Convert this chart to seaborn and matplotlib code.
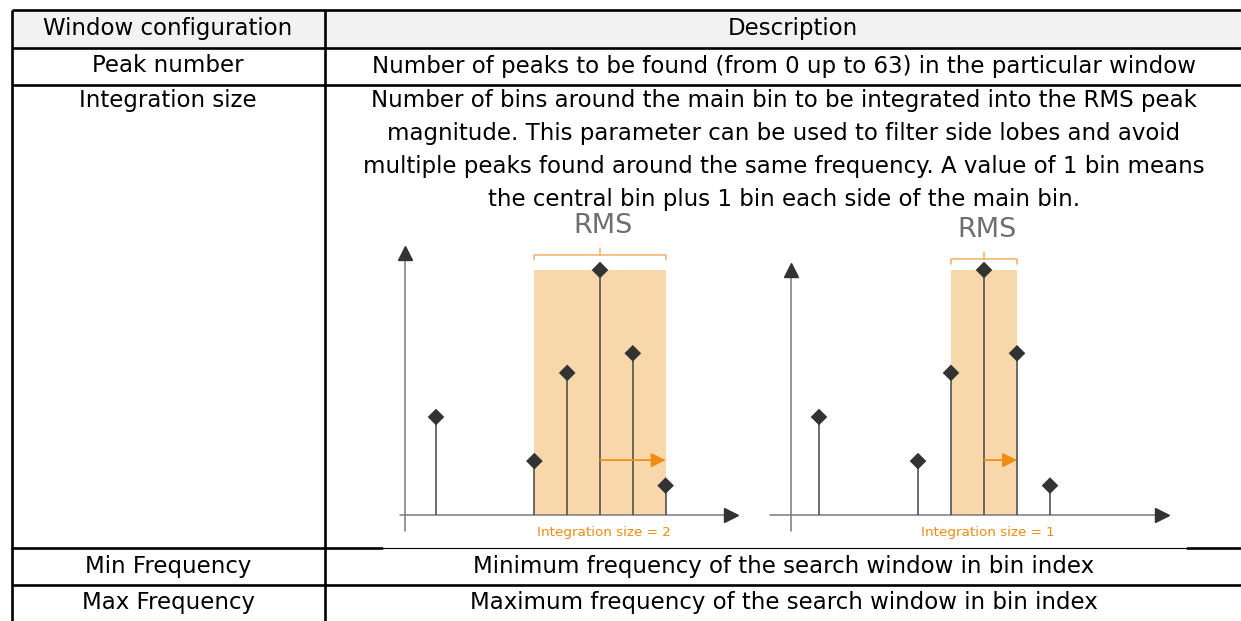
import numpy as np
import pandas as pd
import matplotlib.pyplot as plt
import seaborn as sns
from matplotlib.patches import Rectangle

# 表格内容
header = ["Window configuration", "Description"]
row_names = ["Peak number", "Integration size", "Min Frequency", "Max Frequency"]
row_desc = [
    ["Number of peaks to be found (from 0 up to 63) in the particular window"],
    ["Number of bins around the main bin to be integrated into the RMS peak",
     "magnitude. This parameter can be used to filter side lobes and avoid",
     "multiple peaks found around the same frequency. A value of 1 bin means",
     "the central bin plus 1 bin each side of the main bin."],
    ["Minimum frequency of the search window in bin index"],
    ["Maximum frequency of the search window in bin index"],
]

# 频谱示意图数据
bins = [1, 4, 5, 6, 7, 8]
magnitudes = [0.40, 0.22, 0.58, 1.0, 0.66, 0.12]
peak_bin = 6
integration_sizes = [2, 1]

sns.set_style("white")
plt.rcParams["font.family"] = ["DejaVu Sans"]
plt.rcParams["text.color"] = "black"

W, H = 1241, 621
fig = plt.figure(figsize=(W / 100, H / 100), dpi=100)

# 背景坐标系（像素坐标）
bg = fig.add_axes([0, 0, 1, 1])
bg.set_xlim(0, W)
bg.set_ylim(H, 0)
bg.axis("off")

bg.add_patch(Rectangle((12, 10), W, 38, facecolor="#f2f2f2", edgecolor="none"))
lw = 1.9
for y in [10, 48, 85, 585]:
    bg.plot([12, W + 5], [y, y], color="black", lw=lw, solid_capstyle="butt")
bg.plot([12, 382], [548, 548], color="black", lw=lw)
bg.plot([382, 1187], [548, 548], color="black", lw=0.8)
bg.plot([1187, W + 5], [548, 548], color="black", lw=lw)
for x in [12, 325]:
    bg.plot([x, x], [10, H + 5], color="black", lw=lw, solid_capstyle="butt")

fs = 16.5
bg.text(168, 29, header[0], ha="center", va="center", fontsize=fs)
bg.text(793, 29, header[1], ha="center", va="center", fontsize=fs)

name_y = [66, 101, 566, 603]
for name, y in zip(row_names, name_y):
    bg.text(168, y, name, ha="center", va="center", fontsize=fs)
for lines, y in zip(row_desc, name_y):
    for i, line in enumerate(lines):
        bg.text(784, y + i * 32.7, line, ha="center", va="center", fontsize=fs)

orange = "#ef8c12"
fill = "#f8d8ab"
bracket_c = "#f5b064"
df = pd.DataFrame({"bin": bins, "mag": magnitudes})
peak_mag = df.loc[df["bin"] == peak_bin, "mag"].iloc[0]

# 两个示意图：bin0像素, bin间距, xlim, y轴位置, x轴起止, y轴顶部, RMS高度
panels = [
    dict(x0=403.2, dx=32.8, xlim=(-1, 11), yax=0.05, xa=(-0.1, 10.0), ytop=1.07, rms_y=1.18, br_y=1.06),
    dict(x0=786.0, dx=33.0, xlim=(-1, 12), yax=0.15, xa=(-0.48, 11.4), ytop=1.0, rms_y=1.165, br_y=1.045),
]
y0_px, dy = 515, 245
ylim = (-0.3, 1.5)

for p, size in zip(panels, integration_sizes):
    left = p["x0"] + p["xlim"][0] * p["dx"]
    width = (p["xlim"][1] - p["xlim"][0]) * p["dx"]
    top = y0_px - ylim[1] * dy
    height = (ylim[1] - ylim[0]) * dy
    ax = fig.add_axes([left / W, 1 - (top + height) / H, width / W, height / H])
    ax.set_xlim(*p["xlim"])
    ax.set_ylim(*ylim)
    ax.patch.set_alpha(0)

    lo, hi = peak_bin - size, peak_bin + size
    ax.fill_between([lo, hi], 0, peak_mag, color=fill, lw=0, zorder=1)

    # 坐标轴与箭头
    ax.plot(list(p["xa"]), [0, 0], color="#7a7a7a", lw=1.1, zorder=2)
    ax.plot([p["xa"][1]], [0], marker=">", ms=10, color="#333333", zorder=3)
    ax.plot([p["yax"], p["yax"]], [-0.065, p["ytop"]], color="#7a7a7a", lw=1.1, zorder=2)
    ax.plot([p["yax"]], [p["ytop"]], marker="^", ms=10, color="#333333", zorder=3)

    ax.vlines(df["bin"], 0, df["mag"], color="#454545", lw=1.1, zorder=3)
    sns.scatterplot(data=df, x="bin", y="mag", marker="D", s=72, color="#333333",
                    edgecolor="none", ax=ax, zorder=4, legend=False)
    ax.axis("off")

    # RMS 括号
    b = p["br_y"]
    ax.plot([lo, lo, hi, hi], [b - 0.02, b, b, b - 0.02], color=bracket_c, lw=1.1)
    ax.plot([peak_bin, peak_bin], [b, b + 0.03], color=bracket_c, lw=1.1)
    ax.text(peak_bin + 0.1, p["rms_y"], "RMS", ha="center", va="center",
            fontsize=19.5, color="#6e6e6e")

    ax.annotate("", xy=(hi, 0.224), xytext=(peak_bin, 0.224),
                arrowprops=dict(arrowstyle="-|>", color=orange, lw=1.2, mutation_scale=22,
                                shrinkA=0, shrinkB=0), zorder=5)
    ax.text(peak_bin + 0.12, -0.073, f"Integration size = {size}", ha="center",
            va="center", fontsize=9.7, color=orange)

fig.savefig("out.png", dpi=100)
